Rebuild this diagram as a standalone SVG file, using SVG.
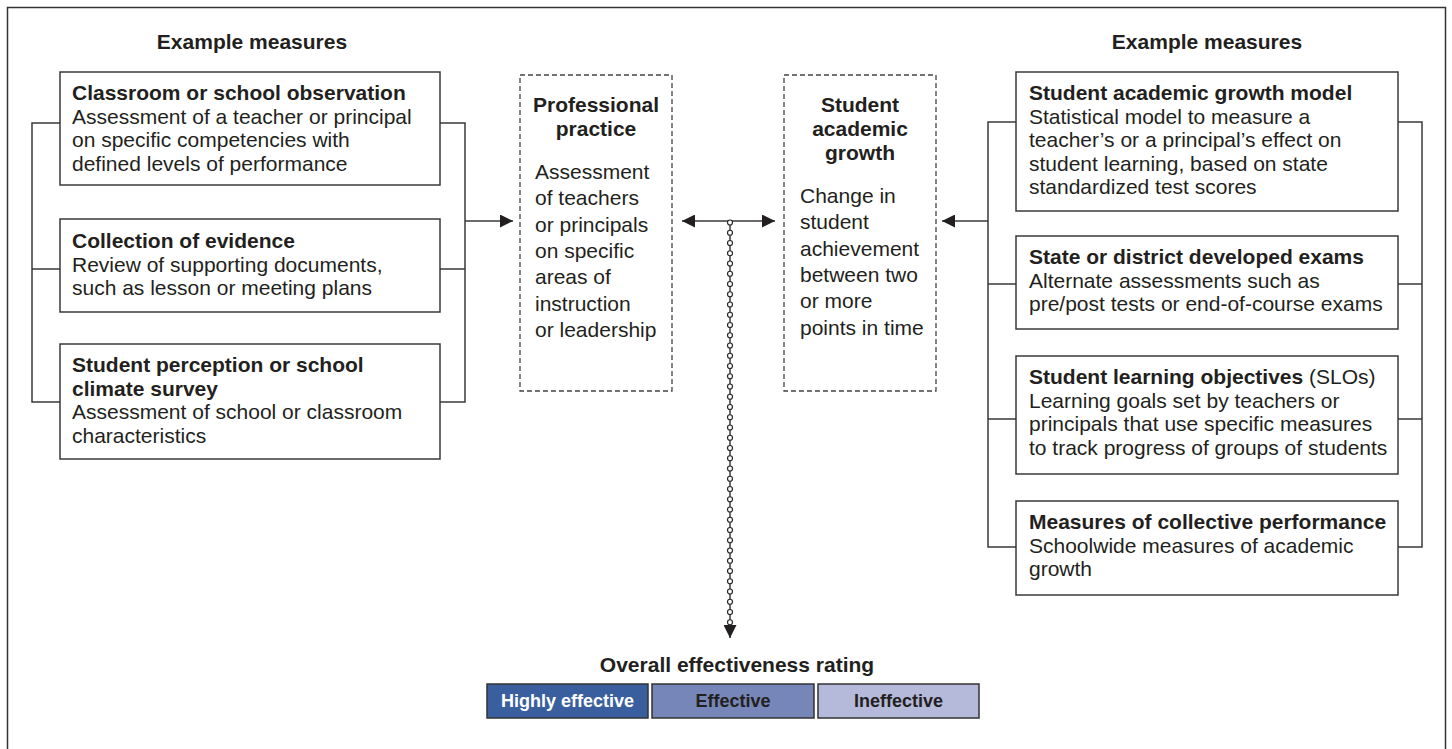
<svg xmlns="http://www.w3.org/2000/svg" width="1452" height="749" viewBox="0 0 1452 749">
<style>
text{font-family:"Liberation Sans",Arial,sans-serif;font-size:21px;fill:#231f20}
.b{font-weight:bold}
.c{text-anchor:middle}
.box{fill:#fff;stroke:#3a3a3a;stroke-width:1.5}
.dash{fill:#fff;stroke:#444;stroke-width:1.3;stroke-dasharray:5 3}
.ln{fill:none;stroke:#3a3a3a;stroke-width:1.5}
.ch{fill:#fff;stroke:#2a2a2a;stroke-width:1.2}
.rt{stroke:#333;stroke-width:1.5}
.rl{font-size:18px;font-weight:bold}
</style>
<defs>
<marker id="ah" markerUnits="userSpaceOnUse" markerWidth="13" markerHeight="13" refX="13" refY="6.5" orient="auto-start-reverse">
<path d="M0,0 L13,6.5 L0,13 z" fill="#231f20"/>
</marker>
</defs>
<rect x="7.5" y="7.5" width="1438" height="770" fill="none" stroke="#333" stroke-width="1.5"/>

<g id="connectors">
<path class="ln" d="M60,123 H32 V402 H60 M32,269 H60"/>
<path class="ln" d="M440,123 H465 V402 H440 M440,269 H465"/>
<line class="ln" x1="465" y1="221" x2="513" y2="221" marker-end="url(#ah)"/>
<line class="ln" x1="682" y1="221" x2="775" y2="221" marker-start="url(#ah)" marker-end="url(#ah)"/>
<line class="ln" x1="988" y1="221" x2="942" y2="221" marker-end="url(#ah)"/>
<path class="ln" d="M1016,122 H988 V547 H1016 M988,284 H1016 M988,419 H1016"/>
<path class="ln" d="M1398,122 H1422 V547 H1398 M1398,284 H1422 M1398,419 H1422"/>
<line class="ln" x1="730" y1="222" x2="730" y2="638" stroke-width="1.2" marker-end="url(#ah)"/>
<g id="chain">
<circle class="ch" cx="730" cy="222.5" r="2.5"/><circle class="ch" cx="730" cy="232.75" r="2.5"/><circle class="ch" cx="730" cy="243" r="2.5"/><circle class="ch" cx="730" cy="253.25" r="2.5"/><circle class="ch" cx="730" cy="263.5" r="2.5"/><circle class="ch" cx="730" cy="273.75" r="2.5"/><circle class="ch" cx="730" cy="284" r="2.5"/><circle class="ch" cx="730" cy="294.25" r="2.5"/><circle class="ch" cx="730" cy="304.5" r="2.5"/><circle class="ch" cx="730" cy="314.75" r="2.5"/>
<circle class="ch" cx="730" cy="325" r="2.5"/><circle class="ch" cx="730" cy="335.25" r="2.5"/><circle class="ch" cx="730" cy="345.5" r="2.5"/><circle class="ch" cx="730" cy="355.75" r="2.5"/><circle class="ch" cx="730" cy="366" r="2.5"/><circle class="ch" cx="730" cy="376.25" r="2.5"/><circle class="ch" cx="730" cy="386.5" r="2.5"/><circle class="ch" cx="730" cy="396.75" r="2.5"/><circle class="ch" cx="730" cy="407" r="2.5"/><circle class="ch" cx="730" cy="417.25" r="2.5"/>
<circle class="ch" cx="730" cy="427.5" r="2.5"/><circle class="ch" cx="730" cy="437.75" r="2.5"/><circle class="ch" cx="730" cy="448" r="2.5"/><circle class="ch" cx="730" cy="458.25" r="2.5"/><circle class="ch" cx="730" cy="468.5" r="2.5"/><circle class="ch" cx="730" cy="478.75" r="2.5"/><circle class="ch" cx="730" cy="489" r="2.5"/><circle class="ch" cx="730" cy="499.25" r="2.5"/><circle class="ch" cx="730" cy="509.5" r="2.5"/><circle class="ch" cx="730" cy="519.75" r="2.5"/>
<circle class="ch" cx="730" cy="530" r="2.5"/><circle class="ch" cx="730" cy="540.25" r="2.5"/><circle class="ch" cx="730" cy="550.5" r="2.5"/><circle class="ch" cx="730" cy="560.75" r="2.5"/><circle class="ch" cx="730" cy="571" r="2.5"/><circle class="ch" cx="730" cy="581.25" r="2.5"/><circle class="ch" cx="730" cy="591.5" r="2.5"/><circle class="ch" cx="730" cy="601.75" r="2.5"/><circle class="ch" cx="730" cy="612" r="2.5"/><circle class="ch" cx="730" cy="622.25" r="2.5"/>
</g>
</g>

<g id="left-header"><text class="b c" x="252" y="49">Example measures</text></g>
<g id="right-header"><text class="b c" x="1207" y="49">Example measures</text></g>

<g id="classroom-observation">
<rect class="box" x="60" y="72" width="380" height="113"/>
<text x="72" y="100"><tspan class="b">Classroom or school observation</tspan><tspan x="72" y="123.5">Assessment of a teacher or principal</tspan><tspan x="72" y="147">on specific competencies with</tspan><tspan x="72" y="170.5">defined levels of performance</tspan></text>
</g>
<g id="collection-evidence">
<rect class="box" x="60" y="219" width="380" height="93"/>
<text x="72" y="248"><tspan class="b">Collection of evidence</tspan><tspan x="72" y="271.5">Review of supporting documents,</tspan><tspan x="72" y="295">such as lesson or meeting plans</tspan></text>
</g>
<g id="student-perception">
<rect class="box" x="60" y="344" width="380" height="115"/>
<text x="72" y="372"><tspan class="b">Student perception or school</tspan><tspan x="72" y="395.5" class="b">climate survey</tspan><tspan x="72" y="419">Assessment of school or classroom</tspan><tspan x="72" y="442.5">characteristics</tspan></text>
</g>

<g id="professional-practice">
<rect class="dash" x="520" y="75" width="152" height="316"/>
<text class="b c" x="596" y="112">Professional</text>
<text class="b c" x="596" y="136">practice</text>
<text x="535" y="179"><tspan>Assessment</tspan><tspan x="535" y="205.3">of teachers</tspan><tspan x="535" y="231.6">or principals</tspan><tspan x="535" y="257.9">on specific</tspan><tspan x="535" y="284.2">areas of</tspan><tspan x="535" y="310.5">instruction</tspan><tspan x="535" y="336.8">or leadership</tspan></text>
</g>

<g id="student-academic-growth">
<rect class="dash" x="784" y="75" width="152" height="316"/>
<text class="b c" x="860" y="112">Student</text>
<text class="b c" x="860" y="136">academic</text>
<text class="b c" x="860" y="160">growth</text>
<text x="800" y="203"><tspan>Change in</tspan><tspan x="800" y="229.3">student</tspan><tspan x="800" y="255.6">achievement</tspan><tspan x="800" y="281.9">between two</tspan><tspan x="800" y="308.2">or more</tspan><tspan x="800" y="334.5">points in time</tspan></text>
</g>

<g id="growth-model">
<rect class="box" x="1016" y="72" width="382" height="139"/>
<text x="1029" y="100"><tspan class="b">Student academic growth model</tspan><tspan x="1029" y="123.5">Statistical model to measure a</tspan><tspan x="1029" y="147">teacher’s or a principal’s effect on</tspan><tspan x="1029" y="170.5">student learning, based on state</tspan><tspan x="1029" y="194">standardized test scores</tspan></text>
</g>
<g id="developed-exams">
<rect class="box" x="1016" y="236" width="382" height="93"/>
<text x="1029" y="264"><tspan class="b">State or district developed exams</tspan><tspan x="1029" y="287.5">Alternate assessments such as</tspan><tspan x="1029" y="311">pre/post tests or end-of-course exams</tspan></text>
</g>
<g id="slos">
<rect class="box" x="1016" y="356" width="382" height="118"/>
<text x="1029" y="384"><tspan class="b">Student learning objectives</tspan><tspan> (SLOs)</tspan><tspan x="1029" y="407.5">Learning goals set by teachers or</tspan><tspan x="1029" y="431">principals that use specific measures</tspan><tspan x="1029" y="454.5">to track progress of groups of students</tspan></text>
</g>
<g id="collective-performance">
<rect class="box" x="1016" y="501" width="382" height="94"/>
<text x="1029" y="529"><tspan class="b">Measures of collective performance</tspan><tspan x="1029" y="552.5">Schoolwide measures of academic</tspan><tspan x="1029" y="576">growth</tspan></text>
</g>

<g id="overall-rating">
<text class="b c" x="737" y="672">Overall effectiveness rating</text>
<rect class="rt" x="487" y="684" width="161" height="34" fill="#3a5f9e"/>
<rect class="rt" x="652" y="684" width="162" height="34" fill="#7686b8"/>
<rect class="rt" x="818" y="684" width="161" height="34" fill="#b5badb"/>
<text class="rl c" x="567.5" y="707" style="fill:#fff">Highly effective</text>
<text class="rl c" x="733" y="707">Effective</text>
<text class="rl c" x="898.5" y="707">Ineffective</text>
</g>
</svg>
